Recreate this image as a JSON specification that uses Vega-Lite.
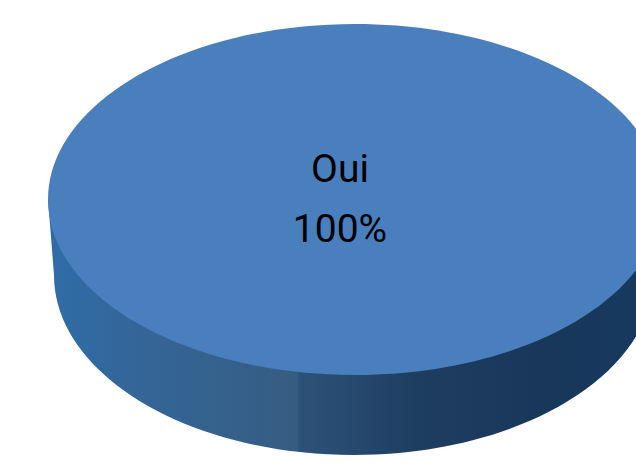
{
  "$schema": "https://vega.github.io/schema/vega-lite/v6.json",
  "width": 636,
  "height": 467,
  "padding": 0,
  "autosize": "none",
  "background": "white",
  "view": {"stroke": null},
  "data": {"values": [{"label": "Oui", "share": "100%", "value": 100}]},
  "layer": [
    {
      "mark": {
        "type": "point",
        "filled": true,
        "opacity": 1,
        "size": 4,
        "shape": "M -270 -34.5 L -264 41.5 A 300 180 0 0 0 336 41.5 L 344 -34.5 Z",
        "fill": {
          "gradient": "linear", "x1": 0, "y1": 0, "x2": 1, "y2": 0,
          "stops": [
            {"offset": 0, "color": "#2f6ca8"},
            {"offset": 0.12, "color": "#33679a"},
            {"offset": 0.405, "color": "#365c82"},
            {"offset": 0.41, "color": "#2d5278"},
            {"offset": 0.6, "color": "#1e3e61"},
            {"offset": 0.8, "color": "#18375a"},
            {"offset": 1, "color": "#163a5e"}
          ]
        }
      },
      "encoding": {"detail": {"field": "label"}}
    },
    {
      "mark": {
        "type": "point",
        "filled": true,
        "opacity": 1,
        "size": 4,
        "color": "#4a7fbd",
        "shape": "M -270 -34 A 307 175.5 0 1 1 344 -34 A 307 175.5 0 1 1 -270 -34 Z"
      },
      "encoding": {"detail": {"field": "label"}}
    },
    {
      "mark": {"type": "text", "font": "Roboto", "fontSize": 39, "color": "#000000", "align": "center", "baseline": "alphabetic", "xOffset": 22, "yOffset": -52},
      "encoding": {"text": {"field": "label"}}
    },
    {
      "mark": {"type": "text", "font": "Roboto", "fontSize": 39, "color": "#000000", "align": "center", "baseline": "alphabetic", "xOffset": 22, "yOffset": 8},
      "encoding": {"text": {"field": "share"}}
    }
  ]
}
